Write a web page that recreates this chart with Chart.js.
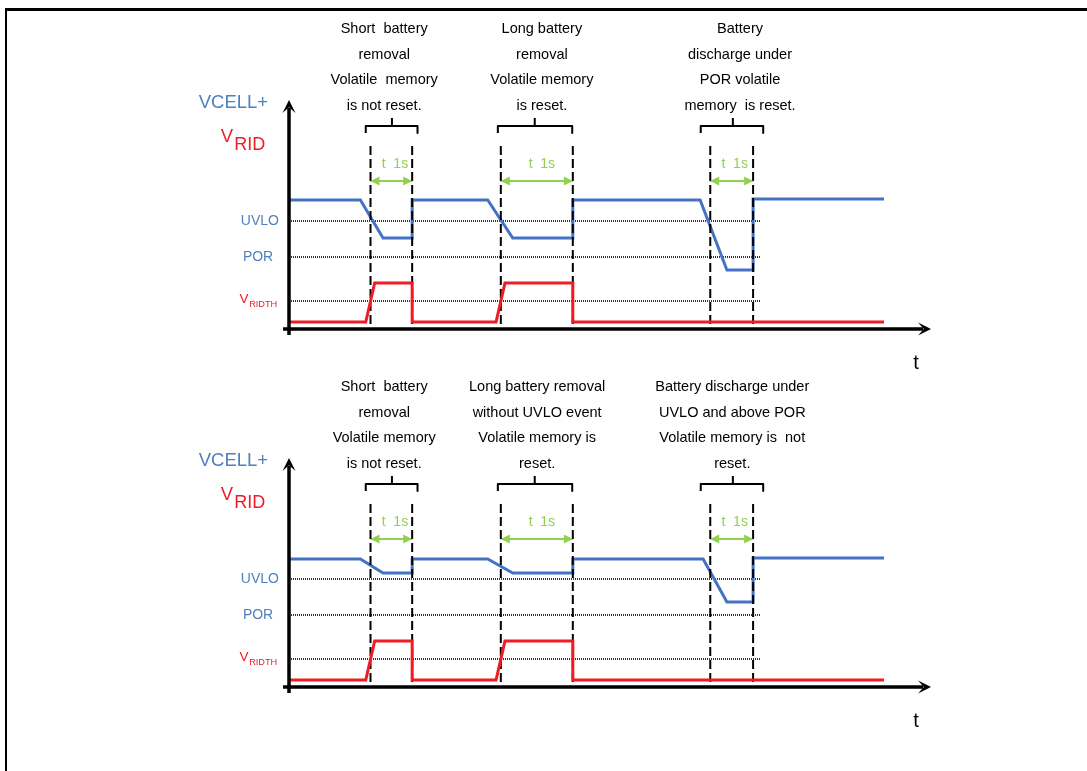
<!DOCTYPE html>
<html lang="en">
<head>
  <meta charset="UTF-8">
  <title>VRID timing</title>
  <script src="https://cdn.jsdelivr.net/npm/chart.js"></script>
  <style>
    html, body { margin: 0; padding: 0; background: #fff; overflow: hidden; }
    body { width: 1087px; height: 771px; position: relative; }
    .frame { position: absolute; left: 5px; top: 8px; width: 1200px; height: 900px;
             border-left: 2.5px solid #000; border-top: 3px solid #000; }
    canvas { position: absolute; left: 0; }
    #topPanel { top: 0; }
    #bottomPanel { top: 358px; }
  </style>
</head>
<body>
  <div class="frame"></div>
  <canvas id="topPanel" width="1087" height="380"></canvas>
  <canvas id="bottomPanel" width="1087" height="380"></canvas>

  <script>
    // Time in arbitrary units (0 = vertical axis, 100 = end of traces), voltage in arbitrary units
    const thresholdNames = ['UVLO', 'POR', 'VRIDTH'];
    const thresholdLevels = [10.8, 7.2, 2.8];
    const thresholdEnd = 79.2;

    // Top panel
    const vcellTimesTop = [0, 12, 15.8, 20.7, 20.7, 33.4, 37.6, 47.7, 47.7, 69.1, 73.6, 78, 78, 100];
    const vcellTop = [12.9, 12.9, 9.1, 9.1, 12.9, 12.9, 9.1, 9.1, 12.9, 12.9, 5.9, 5.9, 13.0, 13.0];
    const vridTimesTop = [0, 12.9, 14.4, 20.7, 20.7, 34.8, 36.3, 47.7, 47.7, 100];
    const vridTop = [0.7, 0.7, 4.6, 4.6, 0.7, 0.7, 4.6, 4.6, 0.7, 0.7];

    // Bottom panel
    const vcellTimesBottom = [0, 12, 15.8, 20.7, 20.7, 33.4, 37.6, 47.7, 47.7, 69.6, 73.6, 78, 78, 100];
    const vcellBottom = [12.8, 12.8, 11.4, 11.4, 12.8, 12.8, 11.4, 11.4, 12.8, 12.8, 8.5, 8.5, 12.9, 12.9];
    const vridTimesBottom = [0, 12.9, 14.4, 20.7, 20.7, 34.8, 36.3, 47.7, 47.7, 100];
    const vridBottom = [0.7, 0.7, 4.6, 4.6, 0.7, 0.7, 4.6, 4.6, 0.7, 0.7];

    // Event windows (dashed markers) and brackets, same in both panels
    const windowStarts = [13.7, 35.6, 70.8];
    const windowEnds = [20.7, 47.7, 78.0];
    const bracketLeft = [12.9, 35.1, 69.2];
    const bracketRight = [21.6, 47.6, 79.7];
    const bracketMid = [17.3, 41.3, 74.6];
    const windowLabel = 't  1s';
    const windowLabelTimes = [17.8, 42.5, 74.9];

    // Notes above each event
    const notesTop = [
      ['Short  battery', 'removal', 'Volatile  memory', 'is not reset.'],
      ['Long battery', 'removal', 'Volatile memory', 'is reset.'],
      ['Battery', 'discharge under', 'POR volatile', 'memory  is reset.']
    ];
    const noteTimesTop = [16.0, 42.5, 75.8];
    const notesBottom = [
      ['Short  battery', 'removal', 'Volatile memory', 'is not reset.'],
      ['Long battery removal', 'without UVLO event', 'Volatile memory is', 'reset.'],
      ['Battery discharge under', 'UVLO and above POR', 'Volatile memory is  not', 'reset.']
    ];
    const noteTimesBottom = [16.0, 41.7, 74.5];

    const FONT = '"Liberation Sans", Arial, sans-serif';
    const BLUE = '#4472C4';
    const BLUE_TEXT = '#4F81BD';
    const RED = '#EE1C24';
    const GREEN = '#92D050';

    const zip = (xs, ys) => xs.map((x, i) => ({ x, y: ys[i] }));

    // vertical segments separated by gaps
    const verticals = (xs, y0, y1) => {
      const pts = [];
      xs.forEach(x => { pts.push({ x, y: y0 }, { x, y: y1 }, { x, y: null }); });
      return pts;
    };

    const bracketPoints = () => {
      const pts = [];
      bracketLeft.forEach((l, i) => {
        const r = bracketRight[i], m = bracketMid[i];
        pts.push({ x: l, y: 19.6 }, { x: l, y: 20.3 }, { x: r, y: 20.3 }, { x: r, y: 19.6 }, { x: r, y: null });
        pts.push({ x: m, y: 20.3 }, { x: m, y: 21.1 }, { x: m, y: null });
      });
      return pts;
    };

    const windowArrowPoints = () => {
      const pts = [];
      windowStarts.forEach((s, i) => {
        pts.push({ x: s, y: 14.8 }, { x: windowEnds[i], y: 14.8 }, { x: windowEnds[i], y: null });
      });
      return pts;
    };

    function arrowHead(ctx, x, y, angle, len, half, notch) {
      ctx.save();
      ctx.translate(x, y);
      ctx.rotate(angle);
      ctx.beginPath();
      ctx.moveTo(0, 0);
      ctx.lineTo(-len, -half);
      ctx.lineTo(-len * notch, 0);
      ctx.lineTo(-len, half);
      ctx.closePath();
      ctx.fill();
      ctx.restore();
    }

    const diagramDecor = {
      id: 'diagramDecor',
      afterDatasetsDraw(chart, args, opts) {
        const { ctx } = chart;
        const px = v => chart.scales.x.getPixelForValue(v);
        const py = v => chart.scales.y.getPixelForValue(v);
        ctx.save();

        // axes with arrows
        ctx.strokeStyle = '#000';
        ctx.fillStyle = '#000';
        ctx.lineWidth = 3.5;
        ctx.beginPath();
        ctx.moveTo(px(0), py(-0.6));
        ctx.lineTo(px(0), py(22.9) + 8);
        ctx.moveTo(px(-1.0), py(0));
        ctx.lineTo(px(107.9) - 8, py(0));
        ctx.stroke();
        arrowHead(ctx, px(0), py(22.9), -Math.PI / 2, 13, 6.5, 0.55);
        arrowHead(ctx, px(107.9), py(0), 0, 13, 6.5, 0.55);

        // green window arrowheads and labels
        ctx.fillStyle = GREEN;
        windowStarts.forEach((s, i) => {
          arrowHead(ctx, px(s), py(14.8), Math.PI, 9, 4.5, 1);
          arrowHead(ctx, px(windowEnds[i]), py(14.8), 0, 9, 4.5, 1);
        });
        ctx.font = '14px ' + FONT;
        ctx.textAlign = 'center';
        ctx.textBaseline = 'middle';
        windowLabelTimes.forEach(t => ctx.fillText(windowLabel, px(t), py(16.5)));

        // notes
        ctx.fillStyle = '#000';
        ctx.font = '14.5px ' + FONT;
        const lineLevels = [30.0, 27.45, 24.9, 22.35];
        opts.notes.forEach((lines, i) => {
          lines.forEach((txt, j) => ctx.fillText(txt, px(opts.noteTimes[i]), py(lineLevels[j])));
        });

        // time label
        ctx.font = '20px ' + FONT;
        ctx.fillText('t', px(105.4), py(-3.4));

        // signal names
        ctx.textAlign = 'right';
        ctx.font = '18.5px ' + FONT;
        ctx.fillStyle = BLUE_TEXT;
        ctx.fillText('VCELL+', px(-3.5), py(22.6));
        ctx.fillStyle = RED;
        ctx.fillText('V', px(-9.4), py(19.2));
        ctx.textAlign = 'left';
        ctx.font = '18px ' + FONT;
        ctx.fillText('RID', px(-9.2), py(18.4));

        // threshold names
        ctx.textAlign = 'center';
        ctx.font = '14px ' + FONT;
        ctx.fillStyle = BLUE_TEXT;
        ctx.fillText(thresholdNames[0], px(-4.9), py(thresholdLevels[0]));
        ctx.fillText(thresholdNames[1], px(-5.2), py(thresholdLevels[1]));
        ctx.fillStyle = RED;
        ctx.textAlign = 'right';
        ctx.font = '13.5px ' + FONT;
        ctx.fillText('V', px(-6.8), py(thresholdLevels[2] + 0.2));
        ctx.textAlign = 'left';
        ctx.font = '9.2px ' + FONT;
        ctx.fillText(thresholdNames[2].slice(1), px(-6.7), py(thresholdLevels[2] - 0.35));

        ctx.restore();
      }
    };

    function makePanel(id, vcellTimes, vcell, vridTimes, vrid, notes, noteTimes) {
      const thresholds = thresholdLevels.map((lvl, i) => ({
        label: thresholdNames[i],
        data: [{ x: 0, y: lvl }, { x: thresholdEnd, y: lvl }],
        borderColor: '#000',
        borderWidth: 1.6,
        borderDash: [1, 1],
        order: 5
      }));

      return new Chart(document.getElementById(id), {
        type: 'line',
        data: {
          datasets: [
            { label: 'VRID', data: zip(vridTimes, vrid), borderColor: RED, borderWidth: 3, order: 0 },
            { label: 'window', data: verticals(windowStarts.concat(windowEnds), 18.3, 0),
              borderColor: '#000', borderWidth: 2, borderDash: [9, 4], order: 1 },
            { label: 'VCELL+', data: zip(vcellTimes, vcell), borderColor: BLUE, borderWidth: 3, order: 2 },
            { label: 'bracket', data: bracketPoints(), borderColor: '#000', borderWidth: 2,
              borderJoinStyle: 'round', order: 3 },
            { label: 'duration', data: windowArrowPoints(), borderColor: GREEN, borderWidth: 2, order: 4 },
            ...thresholds
          ]
        },
        options: {
          responsive: false,
          animation: false,
          parsing: true,
          spanGaps: false,
          layout: { padding: { left: 289, right: 203, top: 100, bottom: 51 } },
          elements: {
            point: { radius: 0, hoverRadius: 0 },
            line: { tension: 0, fill: false, borderCapStyle: 'butt' }
          },
          datasets: { line: { clip: false } },
          scales: {
            x: { type: 'linear', min: 0, max: 100, display: false },
            y: { type: 'linear', min: 0, max: 22.9, display: false }
          },
          plugins: {
            legend: { display: false },
            tooltip: { enabled: false },
            diagramDecor: { notes, noteTimes }
          },
          events: []
        },
        plugins: [diagramDecor]
      });
    }

    makePanel('topPanel', vcellTimesTop, vcellTop, vridTimesTop, vridTop, notesTop, noteTimesTop);
    makePanel('bottomPanel', vcellTimesBottom, vcellBottom, vridTimesBottom, vridBottom, notesBottom, noteTimesBottom);
  </script>
</body>
</html>
